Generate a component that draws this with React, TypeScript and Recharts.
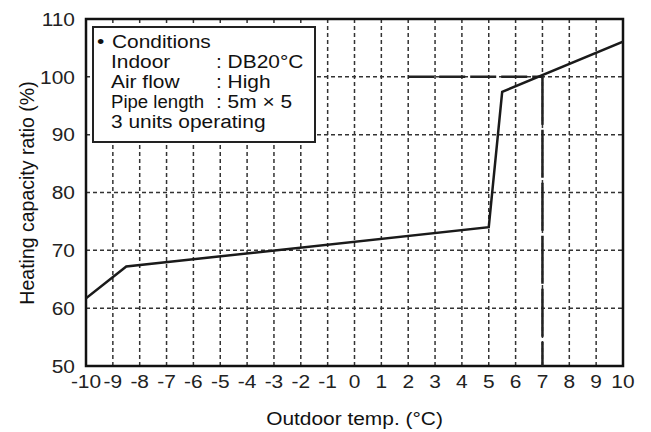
import React from 'react';
import { ComposedChart, Line, XAxis, YAxis, CartesianGrid, ReferenceLine, ReferenceArea } from 'recharts';

const temps = [-10, -8.5, 5, 5.5, 10];
const ratios = [61.7, 67.2, 74.0, 97.4, 106.1];
const xTicks = [-10, -9, -8, -7, -6, -5, -4, -3, -2, -1, 0, 1, 2, 3, 4, 5, 6, 7, 8, 9, 10];
const yTicks = [50, 60, 70, 80, 90, 100, 110];
const conditionLabels = ['Indoor', 'Air flow', 'Pipe length'];
const conditionValues = [': DB20°C', ': High', ': 5m × 5'];
const conditionsTitle = 'Conditions';
const conditionsFooter = '3 units operating';
const xTitle = 'Outdoor temp. (°C)';
const yTitle = 'Heating capacity ratio (%)';

const data = temps.map((t, i) => ({ x: t, y: ratios[i] }));

const FONT = '"Liberation Sans", Arial, Helvetica, sans-serif';
const SX = 1.1;

const XTick = (props: any) => {
  const { x, y, payload } = props;
  return (
    <g transform={`translate(${x},${y})`}>
      <text x={0} y={0} dy={22} textAnchor="middle" transform={`scale(${SX},1)`} fontFamily={FONT} fontSize={19} fill="#222">
        {payload.value}
      </text>
    </g>
  );
};

const YTick = (props: any) => {
  const { x, y, payload } = props;
  return (
    <g transform={`translate(${x - 11},${y})`}>
      <text x={0} y={0} dy={6.8} textAnchor="end" transform={`scale(${SX},1)`} fontFamily={FONT} fontSize={19} fill="#222">
        {payload.value}
      </text>
    </g>
  );
};

const T = ({ x, y, children, anchor = 'start', size = 19, fit }: any) => (
  <g transform={`translate(${x},${y})`}>
    <text
      x={0}
      y={0}
      textAnchor={anchor}
      transform={`scale(${SX},1)`}
      fontFamily={FONT}
      fontSize={size}
      fill="#111"
      {...(fit ? { textLength: fit / SX, lengthAdjust: 'spacingAndGlyphs' } : {})}
    >
      {children}
    </text>
  </g>
);

export default function App() {
  return (
    <div style={{ position: 'relative', width: 651, height: 432, background: '#fff' }}>
      <style>{'body{margin:0;background:#fff}'}</style>
      <ComposedChart width={651} height={432} data={data} margin={{ top: 19, right: 28, left: 0, bottom: 0 }}>
        <CartesianGrid stroke="#333" strokeWidth={1.5} strokeDasharray="4 3" />
        <XAxis
          type="number"
          dataKey="x"
          domain={[-10, 10]}
          ticks={xTicks}
          interval={0}
          height={66}
          axisLine={false}
          tickLine={false}
          tickSize={0}
          tickMargin={0}
          tick={<XTick />}
          allowDataOverflow
        />
        <YAxis
          type="number"
          domain={[50, 110]}
          ticks={yTicks}
          interval={0}
          width={86}
          axisLine={false}
          tickLine={false}
          tickSize={0}
          tickMargin={0}
          tick={<YTick />}
          allowDataOverflow
        />
        <ReferenceArea x1={-10} x2={10} y1={50} y2={110} fill="none" fillOpacity={0} stroke="#111" strokeWidth={2.5} ifOverflow="visible" />
        <ReferenceLine segment={[{ x: 2, y: 100 }, { x: 7, y: 100 }]} stroke="#222" strokeWidth={2.5} strokeDasharray="26 5" ifOverflow="visible" />
        <ReferenceLine segment={[{ x: 7, y: 100 }, { x: 7, y: 50 }]} stroke="#222" strokeWidth={2.5} strokeDasharray="48 5" ifOverflow="visible" />
        <Line type="linear" dataKey="y" stroke="#1a1a1a" strokeWidth={2.5} dot={false} activeDot={false} isAnimationActive={false} />
      </ComposedChart>
      <svg width={651} height={432} style={{ position: 'absolute', left: 0, top: 0, pointerEvents: 'none' }}>
        <rect x={93} y={27} width={222} height={115} fill="#fff" stroke="#222" strokeWidth={2} />
        <T x={97} y={48.3}>•</T>
        <T x={112} y={48.3}>{conditionsTitle}</T>
        {conditionLabels.map((l, i) => (
          <T key={l} x={111} y={68.3 + i * 20} fit={l === 'Pipe length' ? 93 : undefined}>{l}</T>
        ))}
        {conditionValues.map((v, i) => (
          <T key={v} x={216} y={68.3 + i * 20}>{v}</T>
        ))}
        <T x={111} y={128.3}>{conditionsFooter}</T>
        <T x={354.5} y={424.5} anchor="middle">{xTitle}</T>
        <text
          x={0}
          y={0}
          transform="translate(34,193) rotate(-90)"
          textAnchor="middle"
          fontFamily={FONT}
          fontSize={19.5}
          fill="#111"
        >
          {yTitle}
        </text>
      </svg>
    </div>
  );
}
